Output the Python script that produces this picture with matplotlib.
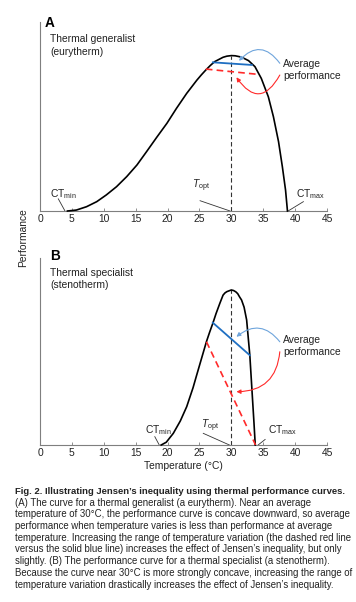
import matplotlib
matplotlib.use("Agg")
import matplotlib.pyplot as plt

plt.rcParams['font.family'] = ['Liberation Sans', 'DejaVu Sans']
plt.rcParams['mathtext.fontset'] = 'custom'
plt.rcParams['mathtext.rm'] = 'Liberation Sans'
plt.rcParams['mathtext.it'] = 'Liberation Sans:italic'
plt.rcParams['mathtext.bf'] = 'Liberation Sans:bold'

# ---------------- data ----------------
temp_A = [4.3, 5.7, 7.3, 8.9, 10.4, 12.0, 13.6, 15.2, 16.7, 18.3, 19.9, 21.4,
          23.0, 24.6, 25.3, 26.0, 26.7, 27.4, 28.7, 29.3, 30.0, 30.6, 31.3,
          32.0, 32.7, 33.7, 34.7, 35.8, 36.6, 37.4, 38.0, 38.5, 38.8]
perf_A = [0.0, 0.005, 0.023, 0.05, 0.086, 0.13, 0.184, 0.246, 0.317, 0.394,
          0.469, 0.549, 0.629, 0.70, 0.728, 0.754, 0.778, 0.799, 0.822, 0.828,
          0.831, 0.830, 0.825, 0.816, 0.804, 0.772, 0.709, 0.611, 0.504,
          0.371, 0.237, 0.112, 0.0]

temp_B = [19.0, 19.8, 20.9, 22.0, 23.0, 24.0, 24.5, 25.1, 25.6, 26.1, 26.6,
          27.1, 27.6, 28.2, 28.7, 29.0, 29.3, 30.0, 30.35, 30.7, 31.0, 31.3,
          31.6, 32.0, 32.4, 32.9, 33.3, 33.55, 33.75]
perf_B = [0.0, 0.015, 0.063, 0.13, 0.207, 0.31, 0.37, 0.441, 0.50, 0.559,
          0.61, 0.658, 0.71, 0.766, 0.81, 0.822, 0.829, 0.838, 0.835, 0.828,
          0.818, 0.80, 0.784, 0.745, 0.676, 0.485, 0.26, 0.12, 0.0]

blue_A_x, blue_A_y = [27.1, 33.2], [0.795, 0.781]
red_A_x, red_A_y = [26.0, 34.1], [0.759, 0.731]
blue_B_x, blue_B_y = [27.1, 32.9], [0.661, 0.485]
red_B_x, red_B_y = [26.1, 33.8], [0.558, 0.0]

t_opt = 30
peak_A = 0.831
peak_B = 0.838

xticks = [0, 5, 10, 15, 20, 25, 30, 35, 40, 45]

caption_title = "Fig. 2. Illustrating Jensen\u2019s inequality using thermal performance curves."
caption_lines = [
    "(A) The curve for a thermal generalist (a eurytherm). Near an average",
    "temperature of 30\u00b0C, the performance curve is concave downward, so average",
    "performance when temperature varies is less than performance at average",
    "temperature. Increasing the range of temperature variation (the dashed red line",
    "versus the solid blue line) increases the effect of Jensen\u2019s inequality, but only",
    "slightly. (B) The performance curve for a thermal specialist (a stenotherm).",
    "Because the curve near 30\u00b0C is more strongly concave, increasing the range of",
    "temperature variation drastically increases the effect of Jensen\u2019s inequality.",
]

# ---------------- figure ----------------
W, H = 356, 602
fig = plt.figure(figsize=(W / 100, H / 100), dpi=100)
fig.patch.set_facecolor('white')

FS = 7.4
AX_COLOR = '#7f7f7f'
TXT = '#222222'
BLUE = '#1f6fc2'
LBLUE = '#6fa5dc'
RED = '#ff2a2a'


def px_axes(left, right, bottom_px, top_px):
    return [left / W, 1 - bottom_px / H, (right - left) / W, (bottom_px - top_px) / H]


axA = fig.add_axes(px_axes(40, 327, 211, 211 - 187 * 1.01))
axB = fig.add_axes(px_axes(40, 327, 445, 445 - 185 * 1.01))


def style(ax):
    ax.set_xlim(0, 45)
    ax.set_ylim(0, 1.01)
    for s in ['top', 'right']:
        ax.spines[s].set_visible(False)
    for s in ['left', 'bottom']:
        ax.spines[s].set_color(AX_COLOR)
        ax.spines[s].set_linewidth(0.8)
    ax.set_xticks(xticks)
    ax.set_xticklabels([str(t) for t in xticks])
    ax.set_yticks([])
    ax.tick_params(axis='x', direction='in', length=2.5, width=0.6,
                   color=AX_COLOR, labelsize=FS, labelcolor=TXT, pad=2)
    ax.patch.set_alpha(0)


def arrow(ax, start, end, color, rad):
    ax.annotate('', xy=end, xytext=start, annotation_clip=False,
                arrowprops=dict(arrowstyle='-|>', color=color, lw=0.8,
                                mutation_scale=6, shrinkA=0, shrinkB=0,
                                connectionstyle=f'arc3,rad={rad}'))


def pointer(ax, p0, p1):
    ax.plot([p0[0], p1[0]], [p0[1], p1[1]], color='#333333', lw=0.6,
            clip_on=False)


# ---------------- panel A ----------------
style(axA)
axA.plot(temp_A, perf_A, color='black', lw=1.2, clip_on=False, zorder=3,
         solid_joinstyle='round')
axA.plot([t_opt, t_opt], [0, peak_A], color='#333333', lw=0.8,
         linestyle=(0, (4, 2.5)), zorder=2)
axA.plot(blue_A_x, blue_A_y, color=BLUE, lw=1.3, zorder=4)
axA.plot(red_A_x, red_A_y, color=RED, lw=1.2, linestyle=(0, (4, 2.5)), zorder=4)

axA.text(0.8, 0.985, 'A', fontsize=9.8, fontweight='bold', va='baseline', color='black')
axA.text(1.57, 0.906, 'Thermal generalist', fontsize=FS, va='baseline', color=TXT)
axA.text(1.57, 0.834, '(eurytherm)', fontsize=FS, va='baseline', color=TXT)
axA.text(38.1, 0.768, 'Average', fontsize=FS, va='baseline', color=TXT)
axA.text(38.1, 0.704, 'performance', fontsize=FS, va='baseline', color=TXT)

arrow(axA, (37.6, 0.79), (31.2, 0.803), LBLUE, 0.6)
arrow(axA, (37.6, 0.727), (30.8, 0.715), RED, -0.8)

axA.text(1.57, 0.076, r'CT$_{\mathrm{min}}$', fontsize=FS, va='baseline', color=TXT)
axA.text(23.8, 0.121, r'$T_{\mathrm{opt}}$', fontsize=FS, va='baseline', color=TXT)
axA.text(40.1, 0.073, r'CT$_{\mathrm{max}}$', fontsize=FS, va='baseline', color=TXT)
pointer(axA, (2.87, 0.065), (3.92, 0.0))
pointer(axA, (25.1, 0.055), (29.8, 0.0))
pointer(axA, (41.3, 0.05), (38.9, 0.0))

# ---------------- panel B ----------------
style(axB)
axB.plot(temp_B, perf_B, color='black', lw=1.2, clip_on=False, zorder=3,
         solid_joinstyle='round')
axB.plot([t_opt, t_opt], [0, peak_B], color='#333333', lw=0.8,
         linestyle=(0, (4, 2.5)), zorder=2)
axB.plot(blue_B_x, blue_B_y, color=BLUE, lw=1.3, zorder=4)
axB.plot(red_B_x, red_B_y, color=RED, lw=1.2, linestyle=(0, (4, 2.5)), zorder=4)

axB.text(1.57, 1.0, 'B', fontsize=9.8, fontweight='bold', va='baseline', color='black')
axB.text(1.57, 0.914, 'Thermal specialist', fontsize=FS, va='baseline', color=TXT)
axB.text(1.57, 0.846, '(stenotherm)', fontsize=FS, va='baseline', color=TXT)
axB.text(38.1, 0.554, 'Average', fontsize=FS, va='baseline', color=TXT)
axB.text(38.1, 0.486, 'performance', fontsize=FS, va='baseline', color=TXT)

arrow(axB, (37.6, 0.558), (30.8, 0.585), LBLUE, 0.5)
arrow(axB, (37.6, 0.504), (30.8, 0.288), RED, -0.45)

axB.text(16.5, 0.063, r'CT$_{\mathrm{min}}$', fontsize=FS, va='baseline', color=TXT)
axB.text(25.3, 0.09, r'$T_{\mathrm{opt}}$', fontsize=FS, va='baseline', color=TXT)
axB.text(35.8, 0.063, r'CT$_{\mathrm{max}}$', fontsize=FS, va='baseline', color=TXT)
pointer(axB, (18.0, 0.045), (18.7, 0.0))
pointer(axB, (25.6, 0.063), (29.7, 0.0))
pointer(axB, (35.3, 0.03), (34.2, 0.0))

axB.set_xlabel('Temperature (\u00b0C)', fontsize=FS, color=TXT, labelpad=2)

fig.text(23 / W, 1 - 238 / H, 'Performance', rotation=90, fontsize=FS,
         color=TXT, ha='center', va='center')

# ---------------- caption ----------------
fig.canvas.draw()
r = fig.canvas.get_renderer()
x0 = 15 / W
base0 = 494.0
dy = 11.7

tt = fig.text(x0, 1 - base0 / H, caption_title, fontsize=7, fontweight='bold',
              color=TXT, va='baseline', ha='left')
w = tt.get_window_extent(r).width
tt.set_fontsize(7 * 330.0 / w)

probe = fig.text(0, 0, caption_lines[4], fontsize=7)
w = probe.get_window_extent(r).width
probe.remove()
cfs = 7 * 329.0 / w
for i, line in enumerate(caption_lines):
    fig.text(x0, 1 - (base0 + dy * (i + 1)) / H, line, fontsize=cfs,
             color=TXT, va='baseline', ha='left')

fig.savefig('out.png', dpi=100)
